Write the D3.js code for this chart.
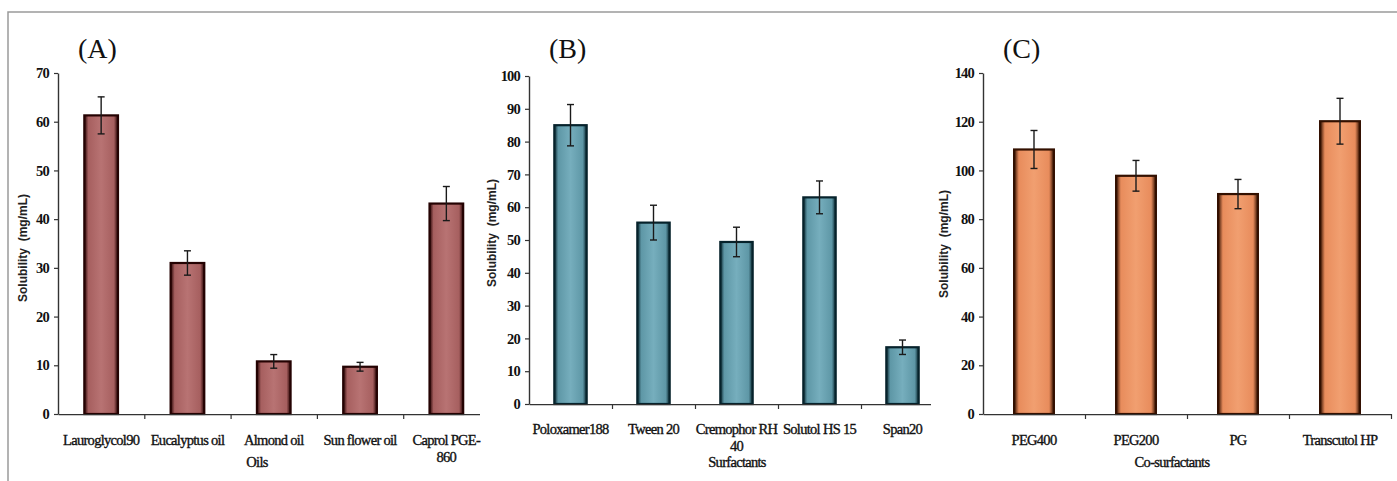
<!DOCTYPE html>
<html>
<head>
<meta charset="utf-8">
<script src="https://cdn.jsdelivr.net/npm/d3@7"></script>
<style>
	body { margin: 0; background: #fff; }
	svg { display: block; }
</style>
</head>
<body>
<div id="chart"></div>
<script>
// Panel A - oils
const oils = ['Lauroglycol90', 'Eucalyptus oil', 'Almond oil', 'Sun flower oil', 'Caprol PGE-\n860']
const oilSolubility = [61.3, 31.0, 10.8, 9.7, 43.2]
const oilError = [3.8, 2.5, 1.4, 0.9, 3.5]
const oilTicks = [0, 10, 20, 30, 40, 50, 60, 70]

// Panel B - surfactants
const surfactants = ['Poloxamer188', 'Tween 20', 'Cremophor RH\n40', 'Solutol HS 15', 'Span20']
const surfactantSolubility = [85.0, 55.3, 49.4, 63.0, 17.3]
const surfactantError = [6.3, 5.3, 4.5, 5.0, 2.2]
const surfactantTicks = [0, 10, 20, 30, 40, 50, 60, 70, 80, 90, 100]

// Panel C - co-surfactants
const coSurfactants = ['PEG400', 'PEG200', 'PG', 'Transcutol HP']
const coSurfactantSolubility = [108.6, 97.8, 90.3, 120.2]
const coSurfactantError = [7.8, 6.3, 6.0, 9.4]
const coSurfactantTicks = [0, 20, 40, 60, 80, 100, 120, 140]

const width = 1397
const height = 481

const panels = [
	{
		id: 'a', tag: '(A)', title: 'Oils', categories: oils, values: oilSolubility, errors: oilError, ticks: oilTicks,
		x0: 58, x1: 489.5, yTop: 73, yBottom: 414, clipRight: 480,
		fill: '#a65f5f', light: '#b87373', dark: '#240202',
		tagX: 78, titleX: 257, titleY: 467, ylabelX: 23, ylabelY: 248, labelY: 440
	},
	{
		id: 'b', tag: '(B)', title: 'Surfactants', categories: surfactants, values: surfactantSolubility, errors: surfactantError, ticks: surfactantTicks,
		x0: 529, x1: 944, yTop: 76, yBottom: 404, clipRight: 931,
		fill: '#5e97a6', light: '#76aebd', dark: '#06222b',
		tagX: 549, titleX: 737, titleY: 467, ylabelX: 492, ylabelY: 233, labelY: 429
	},
	{
		id: 'c', tag: '(C)', title: 'Co-surfactants', categories: coSurfactants, values: coSurfactantSolubility, errors: coSurfactantError, ticks: coSurfactantTicks,
		x0: 983, x1: 1391, yTop: 73, yBottom: 414, clipRight: 1397,
		fill: '#e88c5c', light: '#f19f70', dark: '#331000',
		tagX: 1003, titleX: 1172, titleY: 467, ylabelX: 944, ylabelY: 244, labelY: 440
	}
]

const serif = '"Liberation Serif", "Times New Roman", serif'

const svg = d3.select('#chart')
	.append('svg')
	.attr('width', width)
	.attr('height', height)

const defs = svg.append('defs')

// outer frame
svg.append('path')
	.attr('d', `M8,${height} L8,12 L${width},12`)
	.attr('fill', 'none')
	.attr('stroke', '#9a9a9a')
	.attr('stroke-width', 1.5)

panels.forEach((p) => {
	const n = p.categories.length
	const grad = defs.append('linearGradient')
		.attr('id', `grad-${p.id}`)
		.attr('x1', '0%').attr('x2', '100%')
		.attr('y1', '0%').attr('y2', '0%')
	grad.append('stop').attr('offset', '0%').attr('stop-color', p.dark)
	grad.append('stop').attr('offset', '12%').attr('stop-color', p.fill)
	grad.append('stop').attr('offset', '50%').attr('stop-color', p.light)
	grad.append('stop').attr('offset', '88%').attr('stop-color', p.fill)
	grad.append('stop').attr('offset', '100%').attr('stop-color', p.dark)

	defs.append('clipPath')
		.attr('id', `clip-${p.id}`)
		.append('rect')
		.attr('x', p.x0 - 10)
		.attr('y', 0)
		.attr('width', p.clipRight - p.x0 + 10)
		.attr('height', height)

	const x = d3.scaleBand()
		.domain(p.categories)
		.range([p.x0, p.x1])
		.paddingInner(0.61)
		.paddingOuter(0.305)

	const xEdge = d3.scaleLinear()
		.domain([0, n])
		.range([p.x0, p.x1])

	const y = d3.scaleLinear()
		.domain([0, d3.max(p.ticks)])
		.range([p.yBottom, p.yTop])

	const g = svg.append('g')

	// y axis
	const yAxis = g.append('g')
		.attr('transform', `translate(${p.x0},0)`)
		.call(d3.axisLeft(y).tickValues(p.ticks).tickSize(4).tickSizeOuter(0).tickPadding(5))
	yAxis.select('.domain').attr('stroke', '#333').attr('stroke-width', 1.4)
	yAxis.selectAll('.tick line').attr('stroke', '#333').attr('stroke-width', 1.2)
	yAxis.selectAll('.tick text')
		.attr('fill', '#111')
		.style('font-family', serif)
		.style('font-size', '14.5px')
		.style('font-weight', 'bold')
		.style('letter-spacing', '-0.8px')

	// bars
	g.selectAll('rect.bar')
		.data(p.values)
		.join('rect')
		.attr('class', 'bar')
		.attr('x', (d, i) => x(p.categories[i]))
		.attr('width', x.bandwidth())
		.attr('y', (d) => y(d))
		.attr('height', (d) => y(0) - y(d))
		.attr('fill', `url(#grad-${p.id})`)
		.attr('stroke', p.dark)
		.attr('stroke-width', 2.2)

	// error bars
	const err = g.append('g')
		.attr('stroke', '#1a1a1a')
		.attr('stroke-width', 1.4)
	p.values.forEach((v, i) => {
		const cx = x(p.categories[i]) + x.bandwidth() / 2
		const e = p.errors[i]
		err.append('line')
			.attr('x1', cx).attr('x2', cx)
			.attr('y1', y(v + e)).attr('y2', y(v - e))
		err.append('line')
			.attr('x1', cx - 3.5).attr('x2', cx + 3.5)
			.attr('y1', y(v + e)).attr('y2', y(v + e))
		err.append('line')
			.attr('x1', cx - 3.5).attr('x2', cx + 3.5)
			.attr('y1', y(v - e)).attr('y2', y(v - e))
	})

	// x axis with ticks on category boundaries
	const xAxis = g.append('g')
		.attr('transform', `translate(0,${p.yBottom})`)
		.attr('clip-path', `url(#clip-${p.id})`)
		.call(d3.axisBottom(xEdge).tickValues(d3.range(1, n + 1)).tickFormat('').tickSize(5).tickSizeOuter(0))
	xAxis.select('.domain').attr('stroke', '#333').attr('stroke-width', 1.4)
	xAxis.selectAll('.tick line').attr('stroke', '#333').attr('stroke-width', 1.2)

	// category labels
	const labels = g.append('g')
		.attr('transform', `translate(0,${p.labelY})`)
		.call(d3.axisBottom(x).tickSize(0).tickPadding(0))
	labels.select('.domain').remove()
	labels.selectAll('.tick text')
		.attr('fill', '#111')
		.attr('stroke', '#111')
		.attr('stroke-width', 0.35)
		.attr('y', 0)
		.style('font-family', serif)
		.style('font-size', '14.5px')
		.style('letter-spacing', '-0.7px')
		.each(function (d) {
			const parts = d.split('\n')
			const t = d3.select(this).text(null)
			parts.forEach((s, k) => {
				t.append('tspan')
					.attr('x', 0)
					.attr('dy', k === 0 ? '0.32em' : '1.2em')
					.text(s)
			})
		})

	// axis titles
	g.append('text')
		.attr('x', p.titleX)
		.attr('y', p.titleY)
		.attr('text-anchor', 'middle')
		.attr('fill', '#111')
		.attr('stroke', '#111')
		.attr('stroke-width', 0.35)
		.style('font-family', serif)
		.style('font-size', '14.5px')
		.style('letter-spacing', '-0.7px')
		.text(p.title)

	g.append('text')
		.attr('transform', `translate(${p.ylabelX},${p.ylabelY}) rotate(-90)`)
		.attr('text-anchor', 'middle')
		.attr('dy', '0.35em')
		.attr('fill', '#222')
		.style('font-family', '"Liberation Sans", Arial, sans-serif')
		.style('font-size', '12px')
		.style('font-weight', 'bold')
		.style('white-space', 'pre')
		.text('Solubility  (mg/mL)')

	// panel tag
	g.append('text')
		.attr('x', p.tagX)
		.attr('y', 58)
		.attr('fill', '#111')
		.style('font-family', serif)
		.style('font-size', '28px')
		.text(p.tag)
})
</script>
</body>
</html>
